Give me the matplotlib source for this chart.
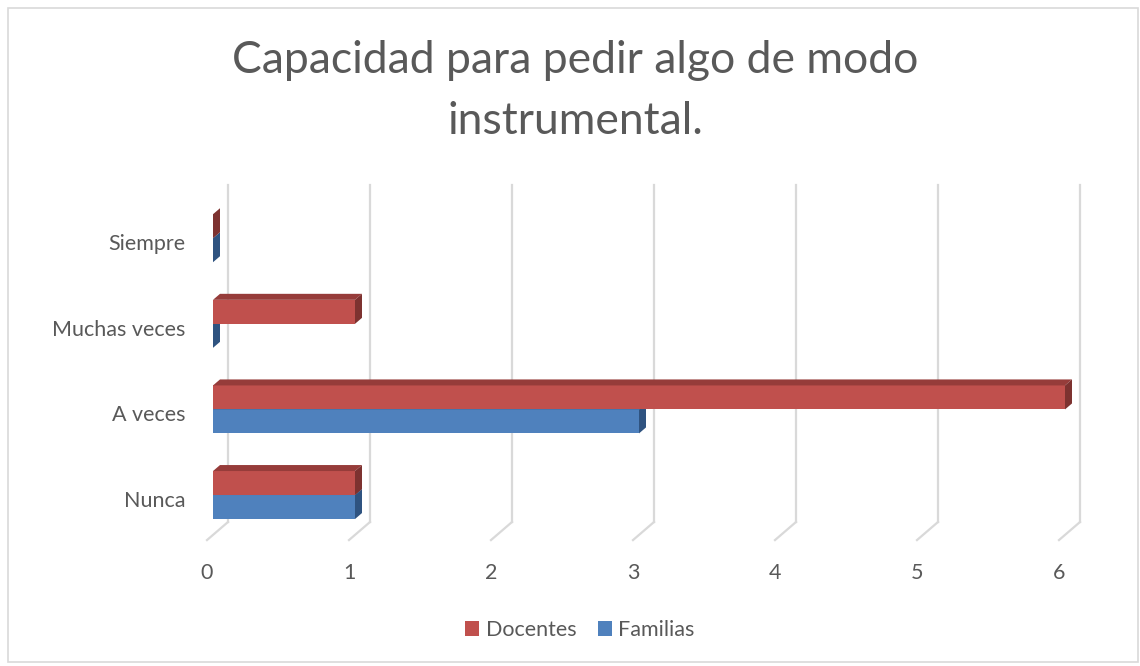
import matplotlib
matplotlib.use("Agg")
import matplotlib.pyplot as plt
from matplotlib.patches import Polygon, Rectangle, Patch

categories = ["Nunca", "A veces", "Muchas veces", "Siempre"]
docentes = [1, 6, 1, 0]
familias = [1, 3, 0, 0]
xticks = [0, 1, 2, 3, 4, 5, 6]
title = "Capacidad para pedir algo de modo\ninstrumental."

W, H = 1140, 666
fig = plt.figure(figsize=(W / 100, H / 100), dpi=100)
plt.rcParams['font.family'] = ['Lato', 'DejaVu Sans']

ax_left, ax_right = 213, 1065
ax_top, ax_bot = 178.3, 546.4
ax = fig.add_axes([ax_left / W, 1 - ax_bot / H, (ax_right - ax_left) / W, (ax_bot - ax_top) / H])
ax.set_xlim(0, 6)
ax.set_ylim(-0.6, 3.7)
ax.axis("off")

pxx = 6 / (ax_right - ax_left)     # data per pixel, x
pxy = 4.3 / (ax_bot - ax_top)      # data per pixel, y

grid_c = "#d9d9d9"
back_dx = 15 * pxx
floor_front_dx = -6 * pxx
y_back_bot = -0.315
y_back_top = 3.62
y_floor_front = -0.526
for v in xticks:
    ax.plot([v + back_dx, v + back_dx], [y_back_bot, y_back_top], color=grid_c, lw=1.6, clip_on=False, zorder=1)
    ax.plot([v + back_dx, v + floor_front_dx], [y_back_bot, y_floor_front], color=grid_c, lw=1.6, clip_on=False, zorder=1)
    ax.text(v + floor_front_dx, -0.915, str(v), ha="center", va="center", fontsize=15.5, color="#595959", clip_on=False)

bh = 24 * pxy
ddx = 7 * pxx
ddy = 6 * pxy

def bar3d(y0, y1, v, front, top, side, z):
    ax.add_patch(Rectangle((0, y0), v, y1 - y0, facecolor=front, edgecolor="none", zorder=z, clip_on=False))
    ax.add_patch(Polygon([(0, y1), (v, y1), (v + ddx, y1 + ddy), (ddx, y1 + ddy)], closed=True,
                         facecolor=top, edgecolor="none", zorder=z, clip_on=False))
    ax.add_patch(Polygon([(v, y0), (v, y1), (v + ddx, y1 + ddy), (v + ddx, y0 + ddy)], closed=True,
                         facecolor=side, edgecolor="none", zorder=z, clip_on=False))

red_f, red_t, red_s = "#C0504D", "#963C3A", "#7D3230"
blue_f, blue_t, blue_s = "#4F81BD", "#3B6496", "#2F5380"

for i, cat in enumerate(categories):
    bar3d(i - bh, i, familias[i], blue_f, blue_t, blue_s, 2 + i * 2)
    bar3d(i, i + bh, docentes[i], red_f, red_t, red_s, 3 + i * 2)
    ax.text(-0.197, i - 0.07, cat, ha="right", va="center", fontsize=15.5, color="#595959", clip_on=False)

fig.text(575 / W, 1 - 91 / H, title, ha="center", va="center", fontsize=32, color="#595959", linespacing=1.6)

handles = [Patch(facecolor=red_f, label="Docentes"), Patch(facecolor=blue_f, label="Familias")]
leg = fig.legend(handles=handles, loc="center", bbox_to_anchor=(580 / W, 1 - 630 / H), ncol=2, frameon=False,
                 fontsize=15.5, handlelength=0.65, handleheight=0.65, handletextpad=0.3, columnspacing=1.0)
for t in leg.get_texts():
    t.set_color("#595959")

fig.patches.append(Rectangle((8 / W, 4 / H), (W - 10) / W, (H - 12) / H, transform=fig.transFigure,
                             fill=False, edgecolor="#d9d9d9", lw=1.2))

fig.savefig("out.png", dpi=100)
